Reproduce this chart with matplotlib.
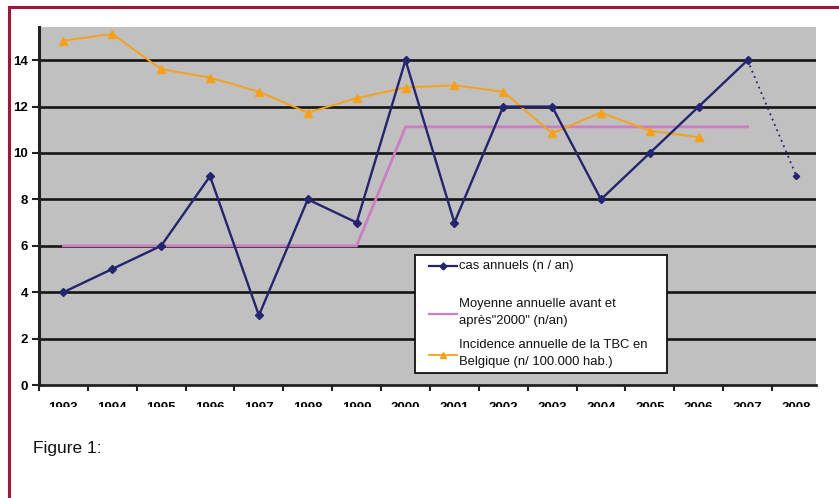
import matplotlib
matplotlib.use("Agg")
import matplotlib.pyplot as plt
from matplotlib.lines import Line2D
from matplotlib.transforms import Bbox, TransformedBbox

plt.rcParams['font.family'] = ['Liberation Sans', 'DejaVu Sans']

# Data
years = ['1993', '1994', '1995', '1996', '1997', '1998', '1999', '2000',
         '2001', '2002', '2003', '2004', '2005', '2006', '2007', '2008']
cas_annuels = [4, 5, 6, 9, 3, 8, 7, 14, 7, 12, 12, 8, 10, 12, 14]
cas_2008 = 9
moyenne = [6, 6, 6, 6, 6, 6, 6, 11.125, 11.125, 11.125, 11.125,
           11.125, 11.125, 11.125, 11.125]
incidence = [14.84, 15.13, 13.61, 13.25, 12.64, 11.74, 12.36, 12.82,
             12.92, 12.64, 10.85, 11.74, 10.96, 10.68]
y_ticks = [0, 2, 4, 6, 8, 10, 12, 14]

legend_labels = ["cas annuels (n / an)",
                 "Moyenne annuelle avant et\naprès\"2000\" (n/an)",
                 "Incidence annuelle de la TBC en\nBelgique (n/ 100.000 hab.)"]

NAVY = '#24246f'
MAGENTA = '#c97fc2'
ORANGE = '#f7a11a'
FRAME = '#9e1638'

W, H = 839, 498
fig = plt.figure(figsize=(W / 100, H / 100), dpi=100)
fig.patch.set_facecolor('white')

# Page frame (top and left rules)
fig.add_artist(Line2D([9 / W, 1], [1 - 7 / H, 1 - 7 / H], color=FRAME, lw=2.2,
                      transform=fig.transFigure))
fig.add_artist(Line2D([9 / W, 9 / W], [0, 1 - 7 / H], color=FRAME, lw=2.2,
                      transform=fig.transFigure))

left, right, top, bottom = 39, 816, 27, 385
ax = fig.add_axes([left / W, 1 - bottom / H, (right - left) / W, (bottom - top) / H])
ax.set_facecolor('#c0c0c0')

x = list(range(len(years)))
ax.set_xlim(-0.5, 15.4)
ax.set_ylim(0, 15.43)

for y in y_ticks[1:]:
    ax.axhline(y, color='#151515', lw=1.9, zorder=1)

ax.plot(x[:len(moyenne)], moyenne, color=MAGENTA, lw=2.0, zorder=2)
ax.plot(x[:len(incidence)], incidence, color=ORANGE, lw=1.4, marker='^',
        markersize=5.5, zorder=3)
ax.plot([x[14], x[15]], [cas_annuels[-1], cas_2008], color=NAVY, lw=1.3,
        ls=(0, (1, 2.2)), zorder=4)
ax.plot([x[15]], [cas_2008], color=NAVY, marker='D', markersize=3.2, lw=0, zorder=4)
ax.plot(x[:len(cas_annuels)], cas_annuels, color=NAVY, lw=1.7, marker='D',
        markersize=4.2, zorder=5)

for s in ['top', 'right']:
    ax.spines[s].set_visible(False)
ax.spines['left'].set_color('#222222')
ax.spines['left'].set_linewidth(2.2)
ax.spines['bottom'].set_color('#222222')
ax.spines['bottom'].set_linewidth(2.0)

ax.set_yticks(y_ticks)
ax.set_yticklabels([str(v) for v in y_ticks], fontsize=9.5, fontweight='bold')
ax.tick_params(axis='y', length=5, width=1.5, color='#222222', pad=3)

ax.set_xticks(x)
ax.set_xticks([i - 0.5 for i in range(len(years))], minor=True)
ax.tick_params(axis='x', which='major', length=0, pad=12)
ax.tick_params(axis='x', which='minor', length=4, width=1.5, color='#222222')
ax.set_xticklabels(years, fontsize=9.5, fontweight='bold')

clip = TransformedBbox(Bbox([[0, 1 - 407 / H], [1, 1]]), fig.transFigure)
for lbl in ax.get_xticklabels():
    lbl.set_clip_box(clip)
    lbl.set_clip_on(True)

def ax_xy(px, py):
    return ((px - left) / (right - left), (bottom - py) / (bottom - top))

# Legend box
bx0, by0 = ax_xy(415, 373)
bx1, by1 = ax_xy(667, 255)
ax.add_patch(plt.Rectangle((bx0, by0), bx1 - bx0, by1 - by0, transform=ax.transAxes,
                           facecolor='white', edgecolor='#111111', lw=1.3, zorder=10))

entries = [
    (NAVY, 'D', 3.5, 1.6, 266, 266),
    (MAGENTA, None, 0, 1.6, 298, 314),
    (ORANGE, '^', 4.5, 1.3, 339, 355),
]
for (col, mk, ms, lw, ytxt, yh), lab in zip(entries, legend_labels):
    hx0, hy = ax_xy(429, yh)
    hx1, _ = ax_xy(457, yh)
    ax.add_line(Line2D([hx0, hx1], [hy, hy], color=col, lw=lw, transform=ax.transAxes,
                       zorder=11))
    if mk:
        ax.add_line(Line2D([(hx0 + hx1) / 2], [hy], color=col, marker=mk, markersize=ms,
                           lw=0, transform=ax.transAxes, zorder=11))
    tx, ty = ax_xy(459, ytxt)
    ax.text(tx, ty, lab, transform=ax.transAxes, fontsize=9.4,
            va='center' if '\n' not in lab else 'top',
            ha='left', linespacing=1.55, zorder=12, color='#111111')

fig.text(33 / W, 1 - 448 / H, "Figure 1:", fontsize=12.5, va='center', ha='left',
         color='#111111')

fig.savefig('out.png', dpi=100, facecolor='white')
